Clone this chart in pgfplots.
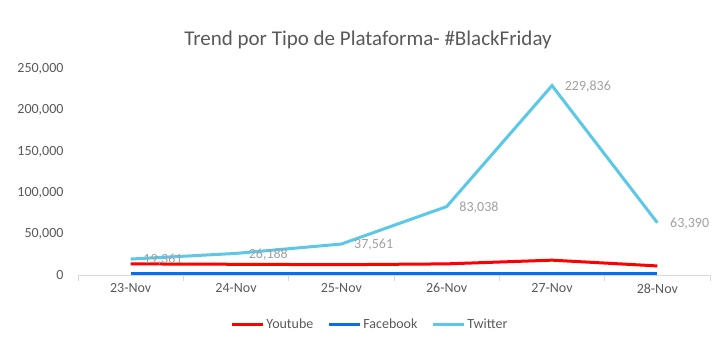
\documentclass[border=0pt]{standalone}
\usepackage{pgfplots}
\pgfplotsset{compat=1.18}
\usepackage{fontspec}
\setmainfont{Carlito}
\definecolor{txtgray}{HTML}{595959}
\definecolor{lblgray}{HTML}{A0A0A0}
\definecolor{axgray}{HTML}{D9D9D9}
\definecolor{ytred}{HTML}{FF0000}
\definecolor{fbblue}{HTML}{0A6CF5}
\definecolor{twblue}{HTML}{5BC8E8}
\begin{document}
\begin{tikzpicture}
\path[use as bounding box] (0,0) rectangle (727bp,351bp);
\begin{axis}[
  at={(78bp,76bp)}, anchor=south west,
  scale only axis, width=632bp, height=206bp,
  xmin=-0.5, xmax=5.5, ymin=0, ymax=250000,
  xtick={0,1,2,3,4,5},
  xticklabels={23-Nov,24-Nov,25-Nov,26-Nov,27-Nov,28-Nov},
  minor xtick={-0.5,0.5,1.5,2.5,3.5,4.5,5.5},
  ytick={0,50000,100000,150000,200000,250000},
  yticklabels={0,{50,000},{100,000},{150,000},{200,000},{250,000}},
  scaled y ticks=false,
  axis lines*=left,
  x axis line style={draw=axgray, line width=0.8bp},
  y axis line style={draw=none},
  major tick length=0pt,
  minor tick length=6bp,
  tick align=outside,
  minor x tick style={draw=axgray, line width=0.8bp},
  ytick style={draw=none},
  ticklabel style={font=\fontsize{14bp}{16bp}\selectfont, text=txtgray},
  yticklabel style={xshift=-11bp},
  xticklabel style={yshift=-5bp},
  title={Trend por Tipo de Plataforma- \#BlackFriday},
  title style={at={(0.459,1.11)}, anchor=center, font=\fontsize{21bp}{24bp}\selectfont, text=txtgray},
  legend style={at={(0.462,-0.24)}, anchor=center, draw=none, fill=none,
    font=\fontsize{14bp}{16bp}\selectfont, text=txtgray,
    legend columns=3,
    /tikz/every even column/.append style={column sep=12bp},
    inner sep=0pt},
  legend image code/.code={\draw[#1] (0bp,0bp) -- (31bp,0bp);},
  clip=false,
]
\addplot[ytred, line width=3bp] coordinates {(0,13500) (1,13000) (2,12500) (3,13500) (4,18000) (5,11000)};
\addlegendentry{Youtube}
\addplot[fbblue, line width=3bp] coordinates {(0,1500) (1,1500) (2,1500) (3,1500) (4,1500) (5,1500)};
\addlegendentry{Facebook}
\addplot[twblue, line width=3bp,
  point meta=explicit symbolic,
  nodes near coords,
  every node near coord/.append style={anchor=west, xshift=8bp, yshift=-1bp, text=lblgray, font=\fontsize{14bp}{16bp}\selectfont}]
  table[meta=lab] {
x y lab
0 19361 19,361
1 26188 26,188
2 37561 37,561
3 83038 83,038
4 229836 229,836
5 63390 63,390
};
\addlegendentry{Twitter}
\end{axis}
\end{tikzpicture}
\end{document}
